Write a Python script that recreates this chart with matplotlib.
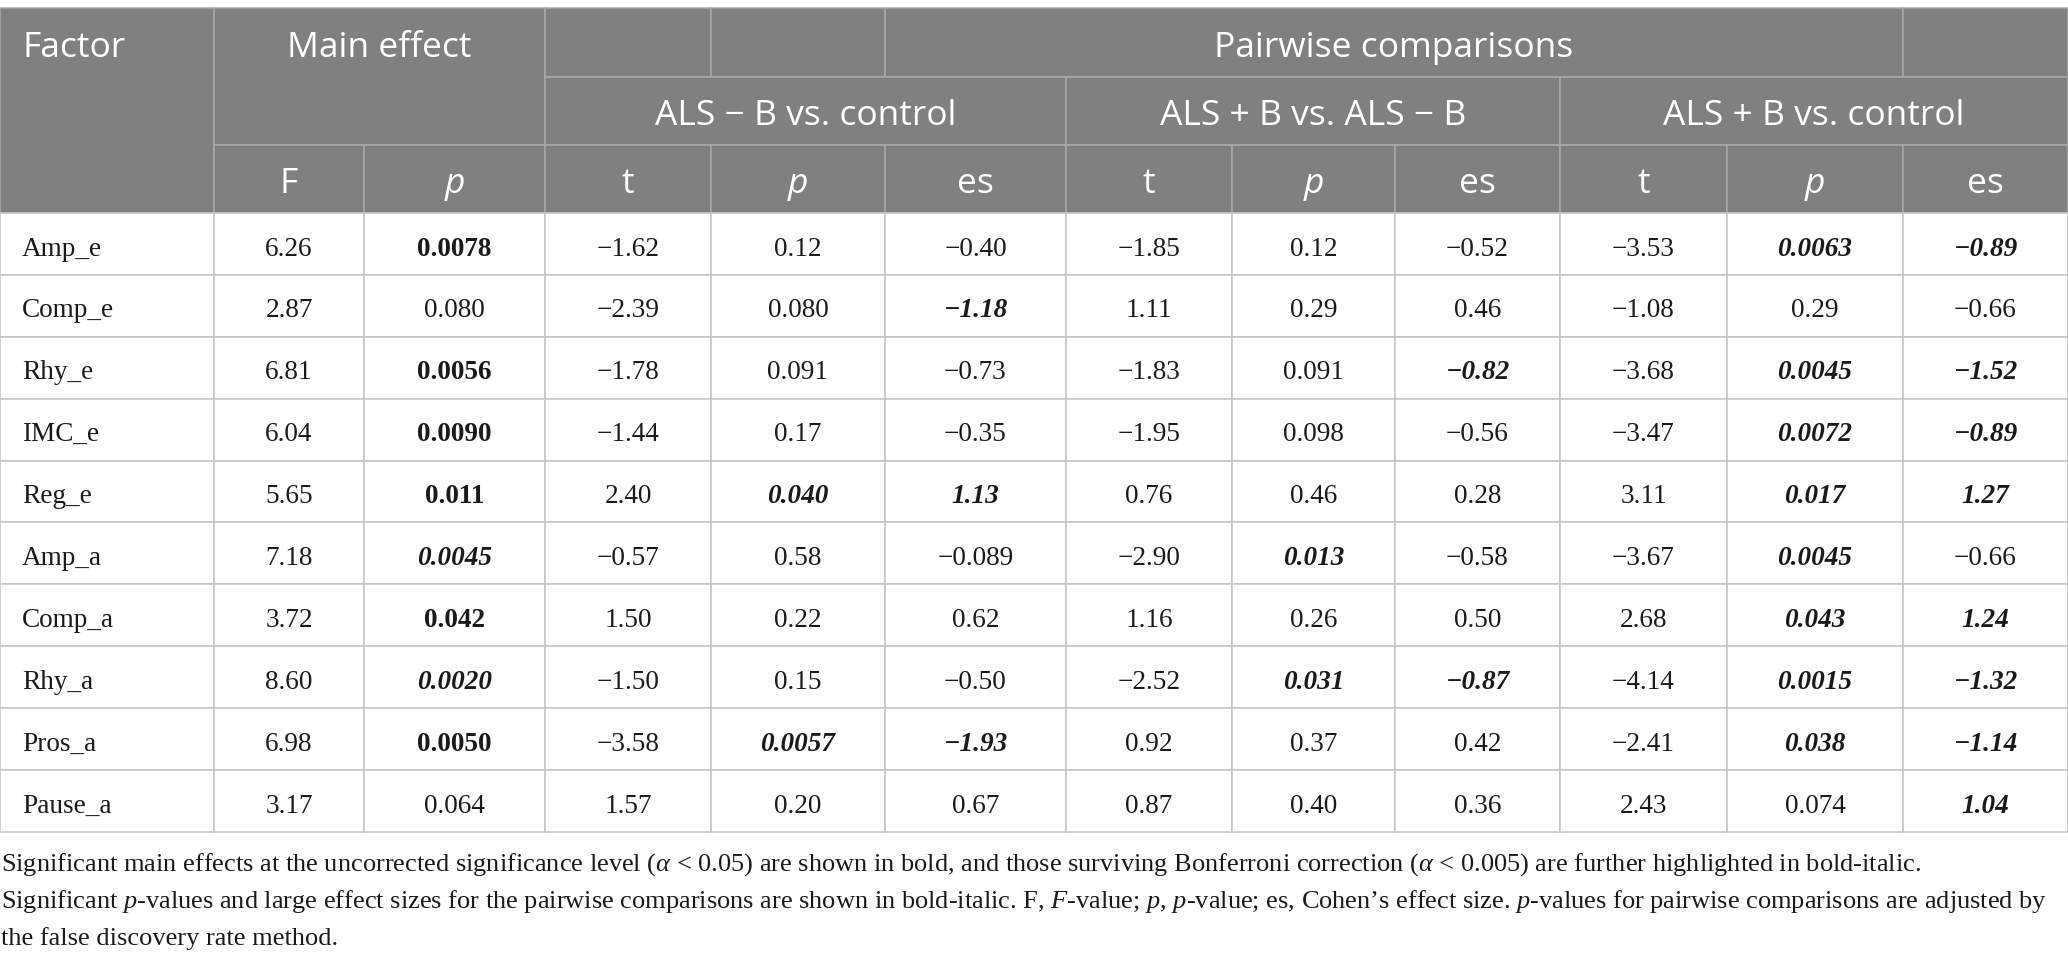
import matplotlib
matplotlib.use("Agg")
import matplotlib.pyplot as plt
from matplotlib.patches import Rectangle

# ---------------- data ----------------
factors = ["Amp_e", "Comp_e", "Rhy_e", "IMC_e", "Reg_e",
           "Amp_a", "Comp_a", "Rhy_a", "Pros_a", "Pause_a"]

F_main = ["6.26", "2.87", "6.81", "6.04", "5.65", "7.18", "3.72", "8.60", "6.98", "3.17"]
p_main = ["0.0078", "0.080", "0.0056", "0.0090", "0.011", "0.0045", "0.042", "0.0020", "0.0050", "0.064"]

t_minus_ctrl = ["−1.62", "−2.39", "−1.78", "−1.44", "2.40", "−0.57", "1.50", "−1.50", "−3.58", "1.57"]
p_minus_ctrl = ["0.12", "0.080", "0.091", "0.17", "0.040", "0.58", "0.22", "0.15", "0.0057", "0.20"]
es_minus_ctrl = ["−0.40", "−1.18", "−0.73", "−0.35", "1.13", "−0.089", "0.62", "−0.50", "−1.93", "0.67"]

t_plus_minus = ["−1.85", "1.11", "−1.83", "−1.95", "0.76", "−2.90", "1.16", "−2.52", "0.92", "0.87"]
p_plus_minus = ["0.12", "0.29", "0.091", "0.098", "0.46", "0.013", "0.26", "0.031", "0.37", "0.40"]
es_plus_minus = ["−0.52", "0.46", "−0.82", "−0.56", "0.28", "−0.58", "0.50", "−0.87", "0.42", "0.36"]

t_plus_ctrl = ["−3.53", "−1.08", "−3.68", "−3.47", "3.11", "−3.67", "2.68", "−4.14", "−2.41", "2.43"]
p_plus_ctrl = ["0.0063", "0.29", "0.0045", "0.0072", "0.017", "0.0045", "0.043", "0.0015", "0.038", "0.074"]
es_plus_ctrl = ["−0.89", "−0.66", "−1.52", "−0.89", "1.27", "−0.66", "1.24", "−1.32", "−1.14", "1.04"]

# cell emphasis: n = normal, b = bold, bi = bold-italic
st_F_main        = ["n"] * 10
st_p_main        = ["b", "n", "b", "b", "b", "bi", "b", "bi", "b", "n"]
st_t_minus_ctrl  = ["n"] * 10
st_p_minus_ctrl  = ["n", "n", "n", "n", "bi", "n", "n", "n", "bi", "n"]
st_es_minus_ctrl = ["n", "bi", "n", "n", "bi", "n", "n", "n", "bi", "n"]
st_t_plus_minus  = ["n"] * 10
st_p_plus_minus  = ["n", "n", "n", "n", "n", "bi", "n", "bi", "n", "n"]
st_es_plus_minus = ["n", "n", "bi", "n", "n", "n", "n", "bi", "n", "n"]
st_t_plus_ctrl   = ["n"] * 10
st_p_plus_ctrl   = ["bi", "n", "bi", "bi", "bi", "bi", "bi", "bi", "bi", "n"]
st_es_plus_ctrl  = ["bi", "n", "bi", "bi", "bi", "n", "bi", "bi", "bi", "bi"]

top_header = ["Factor", "Main effect", "Pairwise comparisons"]
group_header = ["ALS − B vs. control", "ALS + B vs. ALS − B", "ALS + B vs. control"]
sub_header = ["F", "p", "t", "p", "es", "t", "p", "es", "t", "p", "es"]

footnote_lines = [
    "Significant main effects at the uncorrected significance level ($α$ < 0.05) are shown in bold, "
    "and those surviving Bonferroni correction ($α$ < 0.005) are further highlighted in bold-italic.",
    "Significant $p$-values and large effect sizes for the pairwise comparisons are shown in bold-italic. "
    "F, $F$-value; $p$, $p$-value; es, Cohen’s effect size. $p$-values for pairwise comparisons are adjusted by",
    "the false discovery rate method.",
]

columns = [F_main, p_main, t_minus_ctrl, p_minus_ctrl, es_minus_ctrl,
           t_plus_minus, p_plus_minus, es_plus_minus,
           t_plus_ctrl, p_plus_ctrl, es_plus_ctrl]
styles = [st_F_main, st_p_main, st_t_minus_ctrl, st_p_minus_ctrl, st_es_minus_ctrl,
          st_t_plus_minus, st_p_plus_minus, st_es_plus_minus,
          st_t_plus_ctrl, st_p_plus_ctrl, st_es_plus_ctrl]

# ---------------- layout ----------------
W, H = 2068, 963
col_x = [0, 214, 364, 545, 711, 885, 1066, 1232, 1395, 1560, 1727, 1903, 2068]
hdr_y = [8.5, 76.7, 145, 213]
data_top = 213
data_bot = 832
n_rows = len(factors)
row_h = (data_bot - data_top) / n_rows

HDR_BG = "#808080"
HDR_LINE = "#a9a9a9"
GRID = "#c4c4c4"
TXT = "#1a1a1a"

plt.rcParams["mathtext.fontset"] = "custom"
plt.rcParams["mathtext.rm"] = "Liberation Serif"
plt.rcParams["mathtext.it"] = "Liberation Serif:italic"
plt.rcParams["mathtext.bf"] = "Liberation Serif:bold"

SANS = ["Open Sans", "DejaVu Sans"]
SERIF = ["Liberation Serif", "DejaVu Serif"]
HDR_FS = 25.5
DATA_FS = 19.6

fig = plt.figure(figsize=(W / 100, H / 100), dpi=100)
ax = fig.add_axes([0, 0, 1, 1])
ax.set_xlim(0, W)
ax.set_ylim(H, 0)
ax.axis("off")


def cell(x0, x1, y0, y1, face, edge):
    ax.add_patch(Rectangle((x0, y0), x1 - x0, y1 - y0, facecolor=face,
                           edgecolor=edge, linewidth=1.1, zorder=1))


# header cells
cell(col_x[0], col_x[1], hdr_y[0], hdr_y[3], HDR_BG, HDR_LINE)          # Factor
cell(col_x[1], col_x[3], hdr_y[0], hdr_y[2], HDR_BG, HDR_LINE)          # Main effect
cell(col_x[3], col_x[4], hdr_y[0], hdr_y[1], HDR_BG, HDR_LINE)
cell(col_x[4], col_x[5], hdr_y[0], hdr_y[1], HDR_BG, HDR_LINE)
cell(col_x[5], col_x[11], hdr_y[0], hdr_y[1], HDR_BG, HDR_LINE)         # Pairwise
cell(col_x[11], col_x[12], hdr_y[0], hdr_y[1], HDR_BG, HDR_LINE)
for g in range(3):
    cell(col_x[3 + 3 * g], col_x[6 + 3 * g], hdr_y[1], hdr_y[2], HDR_BG, HDR_LINE)
for c in range(1, 12):
    cell(col_x[c], col_x[c + 1], hdr_y[2], hdr_y[3], HDR_BG, HDR_LINE)

# header texts
ax.text(22.5, 57.3, top_header[0], family=SANS, fontsize=HDR_FS, color="white",
        ha="left", va="baseline", zorder=3)
ax.text((col_x[1] + col_x[3]) / 2, 57.3, top_header[1], family=SANS, fontsize=HDR_FS,
        color="white", ha="center", va="baseline", zorder=3)
ax.text((col_x[5] + col_x[11]) / 2, 57.3, top_header[2], family=SANS, fontsize=HDR_FS,
        color="white", ha="center", va="baseline", zorder=3)
for g, lab in enumerate(group_header):
    ax.text((col_x[3 + 3 * g] + col_x[6 + 3 * g]) / 2, 125, lab, family=SANS,
            fontsize=HDR_FS, color="white", ha="center", va="baseline", zorder=3)
for c, lab in enumerate(sub_header):
    ax.text((col_x[c + 1] + col_x[c + 2]) / 2, 193.3, lab, family=SANS,
            fontsize=HDR_FS, color="white", ha="center", va="baseline",
            style="italic" if lab == "p" else "normal", zorder=3)

# data cells
for r in range(n_rows):
    y0 = data_top + r * row_h
    y1 = y0 + row_h
    for c in range(12):
        cell(col_x[c], col_x[c + 1], y0, y1, "white", GRID)
    base = y0 + 42.5
    ax.text(22, base, factors[r], family=SERIF, fontsize=DATA_FS, color=TXT,
            ha="left", va="baseline", zorder=3)
    for c in range(11):
        s = styles[c][r]
        ax.text((col_x[c + 1] + col_x[c + 2]) / 2, base, columns[c][r], family=SERIF,
                fontsize=DATA_FS, color=TXT, ha="center", va="baseline",
                fontweight="bold" if "b" in s else "normal",
                style="italic" if "i" in s else "normal", zorder=3)

# footnote, sized so that the first two lines fit their measured widths
target_w = [1973, 2043]
renderer = fig.canvas.get_renderer()
ratios = []
for line, tw in zip(footnote_lines[:2], target_w):
    probe = ax.text(0, 0, line, family=SERIF, fontsize=20)
    w = probe.get_window_extent(renderer).width
    probe.remove()
    ratios.append(tw / w)
foot_fs = 20 * min(ratios)

for i, line in enumerate(footnote_lines):
    ax.text(1, 871 + i * 37, line, family=SERIF, fontsize=foot_fs, color=TXT,
            ha="left", va="baseline", zorder=3)

fig.savefig("out.png", dpi=100, facecolor="white")
